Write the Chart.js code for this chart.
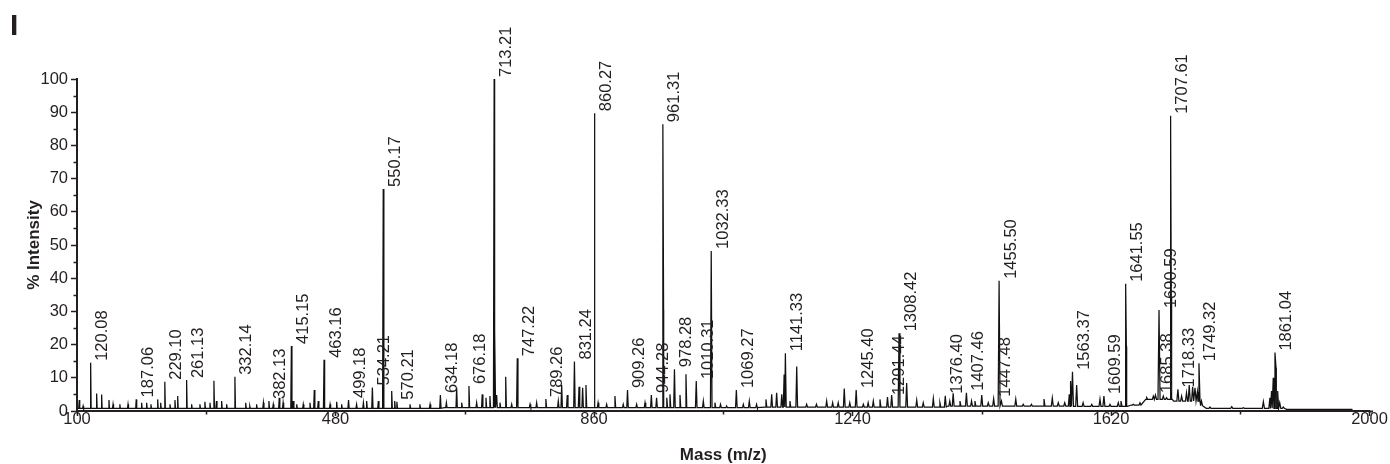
<!DOCTYPE html>
<html>
<head>
<meta charset="utf-8">
<title>Mass spectrum I</title>
<script src="https://cdn.jsdelivr.net/npm/chart.js@4.4.1/dist/chart.umd.min.js"></script>
<style>
  html, body { margin: 0; padding: 0; background: #ffffff; }
  #wrap { width: 1390px; height: 464px; position: relative; }
</style>
</head>
<body>
<div id="wrap"><canvas id="spec" width="1390" height="464"></canvas></div>
<script>
// Annotated peaks: m/z and relative intensity (%)
const labeledMz = [120.08, 187.06, 229.10, 261.13, 332.14, 382.13, 415.15, 463.16, 499.18, 534.21,
  550.17, 570.21, 634.18, 676.18, 713.21, 747.22, 789.26, 831.24, 860.27, 909.26,
  944.28, 961.31, 978.28, 1010.31, 1032.33, 1069.27, 1141.33, 1245.40, 1291.44, 1308.42,
  1376.40, 1407.46, 1447.48, 1455.50, 1563.37, 1609.59, 1641.55, 1685.38, 1690.59, 1707.61,
  1718.33, 1749.32, 1861.04];
const labeledPct = [14.5, 3.5, 8.8, 9.3, 10.3, 3.0, 19.6, 15.4, 3.3, 7.1,
  66.9, 2.8, 4.8, 7.5, 100, 15.9, 3.6, 14.9, 89.7, 6.3,
  4.8, 86.4, 12.6, 9.0, 48.2, 6.3, 17.4, 6.3, 4.2, 23.4,
  4.6, 5.5, 3.7, 39.2, 11.8, 4.5, 38.3, 4.8, 30.4, 88.9,
  6.5, 14.4, 17.6];

// Unannotated peaks and isotope lines
const minorMz = [103.3, 109, 128.9, 136.2, 147, 153, 163, 175, 195, 202.4,
  208.7, 218.6, 223, 236.7, 244, 248, 268.5, 280.7, 288, 295.5,
  301.3, 305, 312.6, 320, 348, 354, 364, 374, 388.5, 397.3,
  403, 418, 423, 432.6, 442.5, 448.8, 454.7, 472, 481.7, 489,
  511, 521, 525.8, 543, 562.6, 567, 589.5, 604, 619, 643,
  658.1, 665.5, 687.5, 695.7, 701.2, 707, 714.3, 716.9, 721.8, 730.2,
  739, 766, 775.7, 807.5, 812.5, 820.7, 838, 843.3, 848.2, 861.3,
  866, 878.6, 890.8, 903, 922.7, 935, 952, 962.3, 967, 971.7,
  986.4, 995.2, 1020.7, 1037.8, 1046, 1055, 1079.5, 1088.3, 1099, 1112.8,
  1121.2, 1128.5, 1136, 1139.5, 1148, 1158, 1172.6, 1187, 1202, 1210.8,
  1219, 1227.9, 1236, 1256, 1263, 1270.6, 1280.4, 1297.6, 1319.6, 1334.4,
  1344, 1358.8, 1368.5, 1383, 1388, 1398, 1415, 1420, 1430, 1439.6,
  1459, 1480, 1491, 1503, 1521.5, 1533.7, 1542.5, 1552, 1558.7, 1561,
  1569.5, 1579, 1591.7, 1603.8, 1618.5, 1630.7, 1634.7, 1642.6, 1652.8, 1662.6,
  1672.5, 1678, 1682.2, 1696.9, 1701.7, 1708.6, 1723.8, 1731, 1735, 1740,
  1743.5, 1747, 1753, 1765.5, 1797.5, 1814.5, 1844, 1853.6, 1856, 1858.5,
  1862.6, 1865, 1868, 1873.3];
const minorPct = [3.3, 1.5, 5.3, 5.0, 3.3, 2, 2, 2, 2.5, 2.5,
  2, 3.5, 2.5, 2, 3.3, 4.5, 2, 2, 2.8, 2.5,
  9.1, 3, 3, 2, 2.5, 1.5, 2, 2.5, 2, 4,
  2.5, 3, 2, 2, 2.5, 6.3, 3, 2, 2.8, 2,
  2, 2.5, 3, 3, 6, 3, 2, 2, 2, 2.5,
  7, 2.5, 2.5, 5, 4, 4.5, 24.4, 4.8, 2.5, 10.3,
  2, 2, 2.5, 3, 7.8, 4.8, 7.3, 7, 7.8, 28.4,
  2.5, 2, 4.5, 2, 2, 2.5, 4, 30.4, 4, 5,
  4.8, 11.1, 3, 2.5, 2, 1.5, 2, 3, 2, 3.5,
  5, 5.5, 5, 11, 3, 13.4, 2, 2, 3, 2.5,
  2.5, 6.8, 2.5, 2, 2.5, 3, 3.5, 4.8, 8.4, 3.3,
  2.5, 3.8, 2.5, 3, 5.3, 3, 3, 3, 4.8, 2.5,
  3, 3.6, 2, 2, 3.6, 3.9, 2.5, 2.5, 5, 9,
  7.8, 2.5, 2, 3.6, 2, 2.5, 3, 19.4, 2, 2.5,
  4, 3.5, 4.5, 4.5, 4, 34, 4.5, 5.5, 7.8, 7.3,
  7, 5.8, 3, 1.2, 1.3, 1, 2.8, 4, 6, 10,
  13, 6, 2.5, 1.2];

// Noise floor, piecewise by m/z region
const baselineMz = [100, 640, 1100, 1380, 1560, 1650, 1672, 1712, 1752, 1760, 1878];
const baselinePct = [0.8, 1.0, 1.2, 1.5, 1.4, 1.8, 3.5, 3.0, 1.6, 0.8, 0.5];
const spectrumEnd = 1975;

// Axis ticks
const massTicks = [100, 480, 860, 1240, 1620, 2000];
const massMinorTicks = [290, 670, 1050, 1430, 1810];
const intensityTicks = [0, 10, 20, 30, 40, 50, 60, 70, 80, 90, 100];
const intensityMinorTicks = [5, 15, 25, 35, 45, 55, 65, 75, 85, 95];

const INK = '#231f20';
const FONT = '"Liberation Sans", Arial, Helvetica, sans-serif';

function floorAt(m) {
  let lvl = baselinePct[0];
  for (let i = 0; i < baselineMz.length; i++) {
    if (m >= baselineMz[i]) lvl = baselinePct[i];
  }
  return lvl;
}

// Build the profile trace: each peak is a narrow spike rising from the noise floor
function buildTrace() {
  const pts = [];
  for (let i = 0; i < baselineMz.length; i++) pts.push({ x: baselineMz[i], y: baselinePct[i] });
  pts.push({ x: spectrumEnd, y: floorAt(spectrumEnd) });
  const addPeak = (m, h) => {
    const hw = 0.65 + m * 0.0005;
    const f = floorAt(m);
    pts.push({ x: m - hw, y: f });
    pts.push({ x: m, y: h });
    pts.push({ x: m + hw, y: f });
  };
  labeledMz.forEach((m, i) => addPeak(m, labeledPct[i]));
  minorMz.forEach((m, i) => addPeak(m, minorPct[i]));
  pts.sort((a, b) => a.x - b.x);
  return pts;
}

const decorations = {
  id: 'decorations',
  afterDatasetsDraw(chart) {
    const { ctx, chartArea } = chart;
    const xs = chart.scales.x;
    const ys = chart.scales.y;
    ctx.save();

    // extend the mass axis a little past its last tick
    ctx.strokeStyle = INK;
    ctx.lineWidth = 2;
    ctx.beginPath();
    ctx.moveTo(chartArea.right - 1, chartArea.bottom + 0.5);
    ctx.lineTo(chartArea.right + 3.5, chartArea.bottom + 0.5);
    ctx.stroke();

    // minor tick marks
    ctx.lineWidth = 1.5;
    ctx.beginPath();
    massMinorTicks.forEach(v => {
      const px = Math.round(xs.getPixelForValue(v)) + 0.5;
      ctx.moveTo(px, chartArea.bottom);
      ctx.lineTo(px, chartArea.bottom + 3.5);
    });
    intensityMinorTicks.forEach(v => {
      const py = Math.round(ys.getPixelForValue(v)) + 0.5;
      ctx.moveTo(chartArea.left - 3.5, py);
      ctx.lineTo(chartArea.left, py);
    });
    ctx.stroke();

    // peak annotations, rotated to read upward
    ctx.fillStyle = INK;
    ctx.font = '16.5px ' + FONT;
    ctx.textAlign = 'left';
    ctx.textBaseline = 'alphabetic';
    labeledMz.forEach((m, i) => {
      const px = xs.getPixelForValue(m);
      const py = ys.getPixelForValue(labeledPct[i]);
      ctx.save();
      ctx.translate(px + 16.5, py - 2);
      ctx.rotate(-Math.PI / 2);
      ctx.fillText(m.toFixed(2), 0, 0);
      ctx.restore();
    });

    // axis titles
    ctx.font = 'bold 17px ' + FONT;
    ctx.textAlign = 'center';
    ctx.textBaseline = 'alphabetic';
    ctx.fillText('Mass (m/z)', (chartArea.left + chartArea.right) / 2, 460);

    ctx.save();
    ctx.translate(38.5, (chartArea.top + chartArea.bottom) / 2);
    ctx.rotate(-Math.PI / 2);
    ctx.fillText('% Intensity', 0, 0);
    ctx.restore();

    // panel letter
    ctx.font = 'bold 30px ' + FONT;
    ctx.textAlign = 'left';
    ctx.fillText('I', 10, 35);

    ctx.restore();
  }
};

const tickFont = { family: FONT, size: 16.5, lineHeight: 1 };

new Chart(document.getElementById('spec'), {
  type: 'line',
  data: {
    datasets: [{
      data: buildTrace(),
      borderColor: '#111111',
      borderWidth: 1.25,
      pointRadius: 0,
      tension: 0,
      fill: false
    }]
  },
  options: {
    responsive: false,
    devicePixelRatio: 1,
    animation: false,
    events: [],
    layout: { padding: { left: 0, top: 79, right: 20.5, bottom: 0 } },
    plugins: { legend: { display: false }, tooltip: { enabled: false }, title: { display: false } },
    scales: {
      x: {
        type: 'linear',
        min: 100,
        max: 2000,
        afterBuildTicks: s => { s.ticks = massTicks.map(v => ({ value: v })); },
        afterFit: s => { s.height = 53; },
        ticks: { color: INK, font: tickFont, padding: -5, maxRotation: 0, autoSkip: false, callback: v => String(v) },
        grid: { display: true, drawOnChartArea: false, drawTicks: true, tickLength: 5, tickWidth: 1.5, tickColor: INK },
        border: { display: true, color: INK, width: 2 }
      },
      y: {
        type: 'linear',
        min: 0,
        max: 100,
        afterBuildTicks: s => { s.ticks = intensityTicks.map(v => ({ value: v })); },
        afterFit: s => { s.width = 77; },
        ticks: { color: INK, font: tickFont, padding: 3, autoSkip: false, callback: v => String(v) },
        grid: { display: true, drawOnChartArea: false, drawTicks: true, tickLength: 6, tickWidth: 1.5, tickColor: INK },
        border: { display: true, color: INK, width: 2 }
      }
    }
  },
  plugins: [decorations]
});
</script>
</body>
</html>
